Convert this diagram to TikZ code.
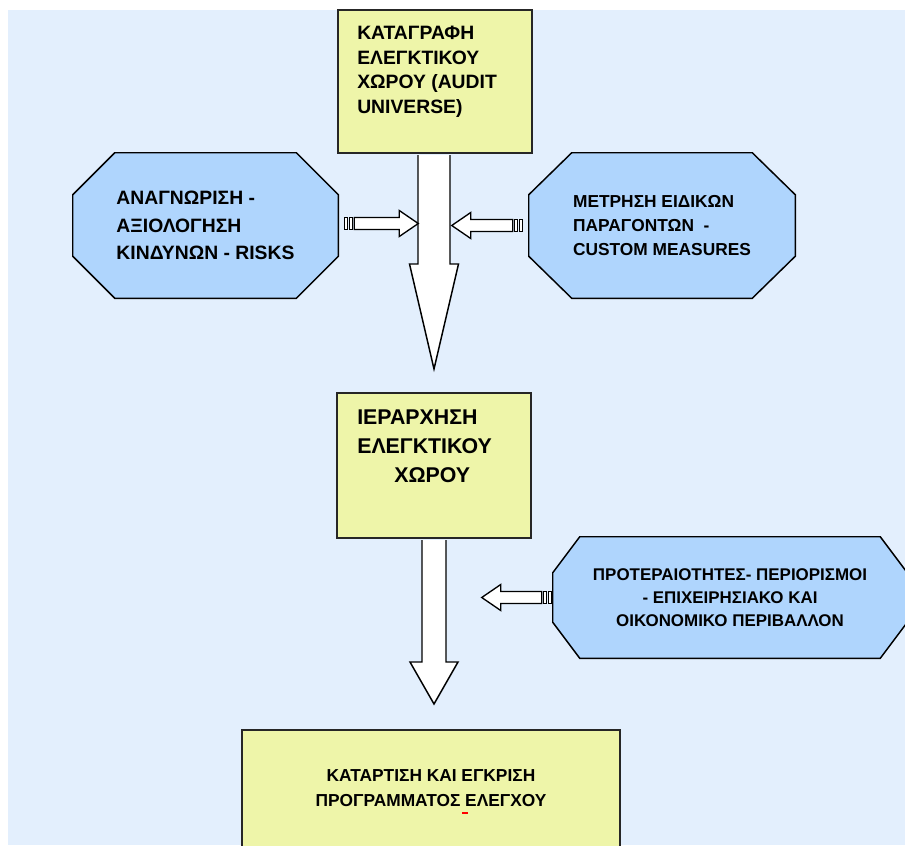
\documentclass[tikz,border=0pt]{standalone}
\usepackage{fontspec}
\setmainfont{Liberation Sans}
\usetikzlibrary{positioning, calc, backgrounds}

\definecolor{bgblue}{RGB}{227,239,253}
\definecolor{boxyellow}{RGB}{238,245,169}
\definecolor{octblue}{RGB}{175,213,253}

% fat block arrow: #1 start anchor, #2 tip, #3 half shaft, #4 half head, #5 head length
\newcommand{\bigarrow}[5]{%
  \coordinate (ba-top) at (#2 |- #1);
  \filldraw[bigline] ($(ba-top)+(-#3,1)$) -- ($(#2)+(-#3,-#5)$) -- ($(#2)+(-#4,-#5)$) -- (#2)
    -- ($(#2)+(#4,-#5)$) -- ($(#2)+(#3,-#5)$) -- ($(ba-top)+(#3,1)$);
}
% small striped arrow: #1 tail point, #2 direction (1 right, -1 left), #3 length
\newcommand{\tailarrow}[3]{%
  \begin{scope}[shift={#1}, xscale=#2]
    \filldraw[smallline] (0,-6) rectangle (3,6);
    \filldraw[smallline] (5,-6) rectangle (8,6);
    \filldraw[smallline] (10,-6) -- ({#3-19},-6) -- ({#3-19},-13) -- (#3,0)
      -- ({#3-19},13) -- ({#3-19},6) -- (10,6) -- cycle;
  \end{scope}}
% octagon behind a node: #1 node, #2 horizontal cut, #3 vertical cut
\newcommand{\octoutline}[3]{%
  \begin{scope}[on background layer]
    \filldraw[octline] ($(#1.north west)+(#2,0)$) -- ($(#1.north east)+(-#2,0)$)
      -- ($(#1.north east)+(0,#3)$) -- ($(#1.south east)+(0,-#3)$)
      -- ($(#1.south east)+(-#2,0)$) -- ($(#1.south west)+(#2,0)$)
      -- ($(#1.south west)+(0,-#3)$) -- ($(#1.north west)+(0,#3)$) -- cycle;
  \end{scope}}

\begin{document}
\begin{tikzpicture}[x=0.75pt, y=-0.75pt,
        box/.style={rectangle, draw=black!85, line width=1.5pt, fill=boxyellow, inner sep=0pt},
        boxtext/.style={anchor=north west, inner sep=0pt, align=left, font=\bfseries},
        octa/.style={rectangle, inner sep=0pt, align=left},
        octline/.style={fill=octblue, draw=black, line width=1.1pt},
        bigline/.style={fill=white, draw=black, line width=1.1pt},
        smallline/.style={fill=white, draw=black, line width=1pt}
    ]
        \useasboundingbox (0,0) rectangle (905,845);
        \begin{scope}[on background layer]
            \fill[bgblue] (8,10) rectangle (905,845);
        \end{scope}

        % Nodes
        \node[box, minimum width=145.5pt, minimum height=107.25pt] (audit) at (435,81.5) {};
        \node[boxtext, font=\fontsize{14.5}{18.4}\selectfont\bfseries] (audittext) at ($(audit.north west)+(20,17)$)
            {ΚΑΤΑΓΡΑΦΗ\\ΕΛΕΓΚΤΙΚΟΥ\\ΧΩΡΟΥ (AUDIT\\UNIVERSE)};

        \node[octa, minimum width=198.75pt, minimum height=108.75pt,
            font=\fontsize{14.5}{20.6}\selectfont\bfseries] (risks) at (205.5,225.5)
            {ΑΝΑΓΝΩΡΙΣΗ -\\ΑΞΙΟΛΟΓΗΣΗ\\ΚΙΝΔΥΝΩΝ - RISKS};
        \octoutline{risks}{42}{42}
        \node[octa, minimum width=199.5pt, minimum height=108.75pt,
            font=\fontsize{13}{18}\selectfont\bfseries] (measures) at (662,225.5)
            {ΜΕΤΡΗΣΗ ΕΙΔΙΚΩΝ\\ΠΑΡΑΓΟΝΤΩΝ \ -\\CUSTOM MEASURES};
        \octoutline{measures}{43}{42}

        \node[box, minimum width=145.5pt, minimum height=108.75pt] (rank) at (434,465.5) {};
        \node[boxtext, font=\fontsize{16}{21.75}\selectfont\bfseries] (ranktext) at ($(rank.north west)+(21,18)$)
            {ΙΕΡΑΡΧΗΣΗ\\ΕΛΕΓΚΤΙΚΟΥ\\\hspace*{27.75pt}ΧΩΡΟΥ};

        \node[octa, align=center, minimum width=265.5pt, minimum height=90.75pt,
            font=\fontsize{12.7}{17}\selectfont\bfseries] (constraints) at (730,597.5)
            {ΠΡΟΤΕΡΑΙΟΤΗΤΕΣ- ΠΕΡΙΟΡΙΣΜΟΙ\\- ΕΠΙΧΕΙΡΗΣΙΑΚΟ ΚΑΙ\\ΟΙΚΟΝΟΜΙΚΟ ΠΕΡΙΒΑΛΛΟΝ};
        \octoutline{constraints}{27}{36}

        \node[box, minimum width=283.5pt, minimum height=112.5pt] (plan) at (431,805) {};
        \node[boxtext, anchor=north, align=center, font=\fontsize{13}{18.75}\selectfont\bfseries] (plantext)
            at ($(plan.north)+(0,40)$) {ΚΑΤΑΡΤΙΣΗ ΚΑΙ ΕΓΚΡΙΣΗ\\ΠΡΟΓΡΑΜΜΑΤΟΣ ΕΛΕΓΧΟΥ};
        \draw[red, line width=1pt] (462,813) -- (468,813);

        % Arrows
        \coordinate (tip1) at ($(rank.north)+(0,-23)$);
        \coordinate (tip2) at ($(plan.north)+(3,-25)$);
        \bigarrow{audit.south}{tip1}{16}{24.5}{105}
        \bigarrow{rank.south}{tip2}{12}{24}{42}

        \tailarrow{($(risks.east)+(6,-2)$)}{1}{74}
        \tailarrow{($(measures.west)+(-6,0)$)}{-1}{71}
        \tailarrow{($(constraints.west)+(-1,0)$)}{-1}{70}
    \end{tikzpicture}
\end{document}
